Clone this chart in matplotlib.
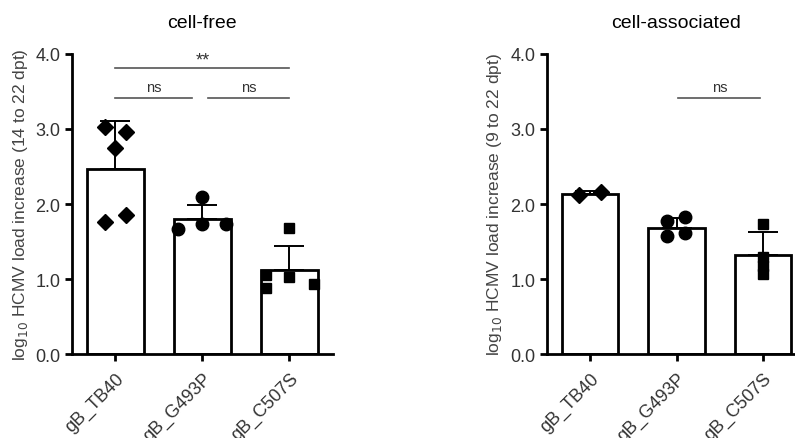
import matplotlib.pyplot as plt
import numpy as np

plt.rcParams['font.family'] = ['Liberation Sans', 'DejaVu Sans']

groups = ['gB_TB40', 'gB_G493P', 'gB_C507S']

# cell-free (14 to 22 dpt)
free_mean = [2.46, 1.80, 1.12]
free_sd = [0.64, 0.19, 0.32]
free_pts = [[3.03, 2.96, 2.75, 1.76, 1.86],
            [1.67, 2.09, 1.73, 1.73],
            [1.68, 1.05, 0.88, 1.03, 0.94]]

# cell-associated (9 to 22 dpt)
assoc_mean = [2.13, 1.68, 1.32]
assoc_sd = [0.04, 0.14, 0.31]
assoc_pts = [[2.12, 2.16],
             [1.77, 1.83, 1.58, 1.61],
             [1.74, 1.30, 1.17, 1.07]]

# horizontal scatter of the dots (layout only)
free_dx = [[-0.125, 0.125, 0, -0.125, 0.125],
           [-0.28, 0, 0, 0.27],
           [0, -0.27, -0.27, 0, 0.28]]
assoc_dx = [[-0.125, 0.125],
            [-0.11, 0.1, -0.11, 0.1],
            [0, 0, 0, 0]]

markers = ['D', 'o', 's']
msizes = [8, 9, 7.5]

fig = plt.figure(figsize=(7.95, 4.39), dpi=100)
ax1 = fig.add_axes([0.0906, 0.191, 0.328, 0.684])
ax2 = fig.add_axes([0.688, 0.191, 0.326, 0.684])


def panel(ax, title, ylab, means, sds, pts, dxs):
    x = np.arange(len(groups))
    ax.bar(x, means, width=0.65, color='white', edgecolor='black', linewidth=2.0, zorder=2)
    ax.errorbar(x, means, yerr=[np.zeros(len(means)), sds], fmt='none', ecolor='black',
                elinewidth=1.4, capsize=11, capthick=1.4, zorder=1)
    for i in range(len(groups)):
        ax.plot(x[i] + np.array(dxs[i]), pts[i], linestyle='none', marker=markers[i],
                markersize=msizes[i], color='black', zorder=3, clip_on=False)
    ax.set_xlim(-0.5, 2.5)
    ax.set_ylim(0, 4)
    ax.set_yticks([0, 1, 2, 3, 4])
    ax.set_yticklabels(['0.0', '1.0', '2.0', '3.0', '4.0'])
    ax.set_xticks(x)
    ax.set_xticklabels(groups, rotation=45, ha='right', rotation_mode='anchor')
    ax.spines['top'].set_visible(False)
    ax.spines['right'].set_visible(False)
    for s in ['left', 'bottom']:
        ax.spines[s].set_linewidth(2.0)
    ax.tick_params(axis='both', width=2.0, length=5, labelsize=13, labelcolor='#333333')
    ax.tick_params(axis='x', pad=6)
    ax.set_ylabel(ylab, fontsize=12.5, color='#444444', labelpad=4)
    ax.set_title(title, fontsize=14, pad=19)


panel(ax1, 'cell-free', r'log$_{10}$ HCMV load increase (14 to 22 dpt)',
      free_mean, free_sd, free_pts, free_dx)
panel(ax2, 'cell-associated', r'log$_{10}$ HCMV load increase (9 to 22 dpt)',
      assoc_mean, assoc_sd, assoc_pts, assoc_dx)


def bracket(ax, x0, x1, y, label, size=10.5, dy=0.05):
    ax.plot([x0, x1], [y, y], color='#555555', linewidth=1.2, clip_on=False)
    ax.text((x0 + x1) / 2, y + dy, label, ha='center', va='bottom', fontsize=size,
            color='#333333')


bracket(ax1, 0, 2, 3.81, '**', size=13, dy=-0.01)
bracket(ax1, 0, 0.88, 3.41, 'ns')
bracket(ax1, 1.06, 2, 3.41, 'ns')
bracket(ax2, 1.02, 1.97, 3.41, 'ns')

fig.savefig('out.png', dpi=100)
